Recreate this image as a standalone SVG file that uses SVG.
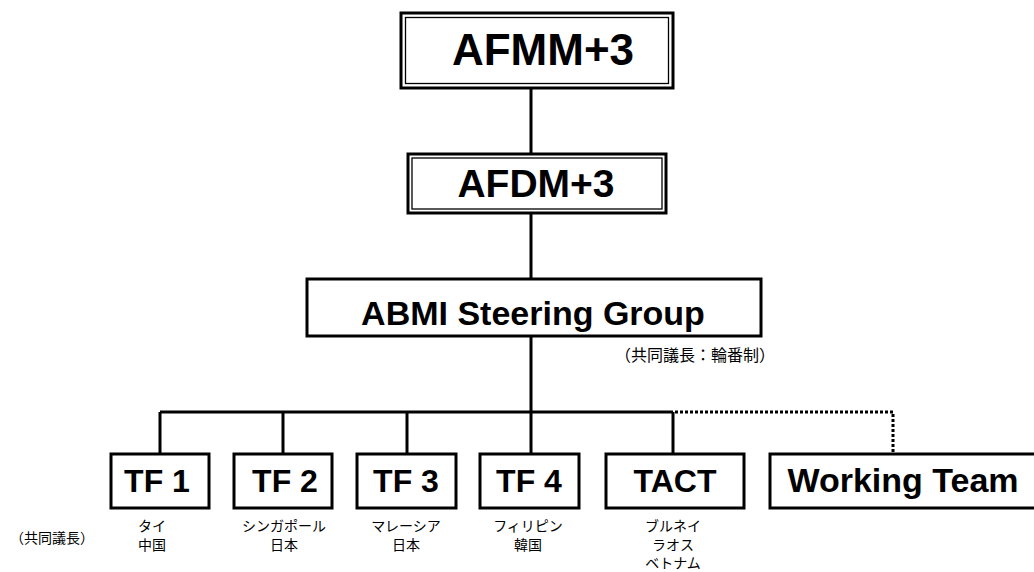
<svg xmlns="http://www.w3.org/2000/svg" width="1034" height="572" viewBox="0 0 1034 572">
<style>
.box{fill:#fff;stroke:#000;stroke-width:3}
.thin{fill:none;stroke:#000;stroke-width:1.3}
.t{font-family:"Liberation Sans",Arial,sans-serif;font-weight:bold;fill:#000;text-anchor:middle}
.j{font-family:"Noto Sans CJK JP",sans-serif;font-size:14px;fill:#000;text-anchor:middle}
.ln{stroke:#000;stroke-width:3;fill:none}
.dot{stroke:#000;stroke-width:3;fill:none;stroke-dasharray:3 2}
</style>
<rect width="1034" height="572" fill="#fff"/>
<g id="connectors">
<path class="ln" d="M531 89V154M531 213V279M531 336V412M160 412H673M160 412V454M283 412V454M407 412V454M531 412V454M673 412V454"/>
<path class="dot" d="M675 412H893V454"/>
</g>
<g id="afmm">
<rect class="box" x="401" y="13" width="272" height="75"/>
<rect class="thin" x="405.5" y="17.5" width="263" height="66"/>
<text class="t" x="543" y="65" font-size="44">AFMM+3</text>
</g>
<g id="afdm">
<rect class="box" x="408" y="154" width="258" height="59" stroke-width="2.5"/>
<rect class="thin" x="412" y="158" width="250" height="51"/>
<text class="t" x="536" y="197" font-size="39">AFDM+3</text>
</g>
<g id="abmi">
<rect class="box" x="307" y="279" width="454" height="57"/>
<text class="t" x="533" y="325" font-size="34">ABMI Steering Group</text>
<text x="615" y="361" font-family="Noto Sans CJK JP,sans-serif" font-size="16">（共同議長：輪番制）</text>
</g>
<g id="tf1">
<rect class="box" x="111" y="454" width="98" height="54"/>
<text class="t" x="157" y="492" font-size="32">TF 1</text>
<text class="j" x="152" y="531">タイ</text>
<text class="j" x="152" y="550">中国</text>
</g>
<g id="tf2">
<rect class="box" x="234" y="454" width="98" height="54"/>
<text class="t" x="285" y="492" font-size="32">TF 2</text>
<text class="j" x="284" y="531">シンガポール</text>
<text class="j" x="284" y="550">日本</text>
</g>
<g id="tf3">
<rect class="box" x="357" y="454" width="99" height="54"/>
<text class="t" x="406" y="492" font-size="32">TF 3</text>
<text class="j" x="406" y="531">マレーシア</text>
<text class="j" x="406" y="550">日本</text>
</g>
<g id="tf4">
<rect class="box" x="480" y="454" width="99" height="54"/>
<text class="t" x="529" y="492" font-size="32">TF 4</text>
<text class="j" x="528" y="531">フィリピン</text>
<text class="j" x="528" y="550">韓国</text>
</g>
<g id="tact">
<rect class="box" x="606" y="454" width="138" height="54"/>
<text class="t" x="675" y="492" font-size="32">TACT</text>
<text class="j" x="673" y="531">ブルネイ</text>
<text class="j" x="673" y="550">ラオス</text>
<text class="j" x="673" y="568">ベトナム</text>
</g>
<g id="working-team">
<rect class="box" x="770" y="454" width="300" height="54"/>
<text class="t" x="903" y="492" font-size="34">Working Team</text>
</g>
<g id="cochair-label">
<text x="10" y="543" font-family="Noto Sans CJK JP,sans-serif" font-size="14">（共同議長）</text>
</g>
</svg>
